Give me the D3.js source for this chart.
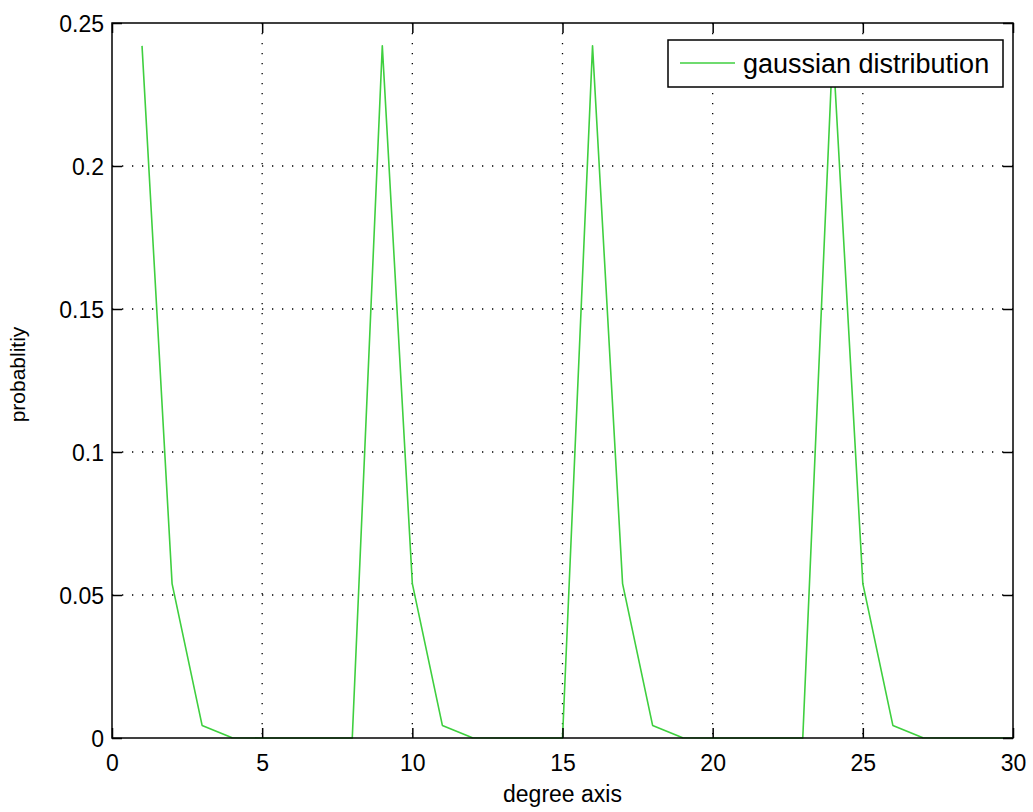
<!DOCTYPE html>
<html>
<head>
<meta charset="utf-8">
<script src="https://cdn.jsdelivr.net/npm/d3@7"></script>
<style>
  body { margin: 0; background: #fff; }
  svg { display: block; }
  text { font-family: 'Liberation Sans', Arial, sans-serif; fill: #000; }
</style>
</head>
<body>
<svg width="1033" height="812" viewBox="0 0 1033 812"></svg>
<script>
const degrees = d3.range(1, 31);
const probability = [
  0.242, 0.054, 0.0044, 0.0001, 0, 0, 0, 0,
  0.242, 0.054, 0.0044, 0.0001, 0, 0, 0,
  0.242, 0.054, 0.0044, 0.0001, 0, 0, 0, 0,
  0.242, 0.054, 0.0044, 0.0001, 0, 0, 0
];
const xTicks = [0, 5, 10, 15, 20, 25, 30];
const yTicks = [0, 0.05, 0.1, 0.15, 0.2, 0.25];
const yTickLabels = ['0', '0.05', '0.1', '0.15', '0.2', '0.25'];
const xLabel = 'degree axis';
const yLabel = 'probablitiy';
const seriesName = 'gaussian distribution';

const data = degrees.map((d, i) => ({ x: d, y: probability[i] }));

const margin = { left: 112, right: 20, top: 23, bottom: 74 };
const svg = d3.select('svg');
const width = +svg.attr('width');
const height = +svg.attr('height');
const innerWidth = width - margin.left - margin.right;
const innerHeight = height - margin.top - margin.bottom;

const g = svg.append('g')
    .attr('transform', `translate(${margin.left},${margin.top})`);

const xScale = d3.scaleLinear().domain([0, 30]).range([0, innerWidth]);
const yScale = d3.scaleLinear().domain([0, 0.25]).range([innerHeight, 0]);

// dotted grid
g.append('g').selectAll('line').data(xTicks.slice(1, -1))
  .enter().append('line')
    .attr('x1', d => xScale(d)).attr('x2', d => xScale(d))
    .attr('y1', 0).attr('y2', innerHeight)
    .attr('stroke', '#000').attr('stroke-width', 1.3)
    .attr('stroke-dasharray', '1.3,8.7');
g.append('g').selectAll('line').data(yTicks.slice(1, -1))
  .enter().append('line')
    .attr('y1', d => yScale(d)).attr('y2', d => yScale(d))
    .attr('x1', 0).attr('x2', innerWidth)
    .attr('stroke', '#000').attr('stroke-width', 1.3)
    .attr('stroke-dasharray', '1.3,8.7');

// series
const line = d3.line().x(d => xScale(d.x)).y(d => yScale(d.y));
g.append('path').datum(data)
    .attr('d', line)
    .attr('fill', 'none')
    .attr('stroke', '#3fcf3f')
    .attr('stroke-width', 1.6)
    .attr('stroke-linejoin', 'round');

// axes with inward ticks on all sides
const tickLen = 10;
const xAxisB = d3.axisBottom(xScale).tickValues(xTicks).tickSize(-tickLen).tickPadding(17).tickFormat(d3.format('d'));
const xAxisT = d3.axisTop(xScale).tickValues(xTicks).tickSize(-tickLen);
const yAxisL = d3.axisLeft(yScale).tickValues(yTicks).tickSize(-tickLen).tickPadding(8).tickFormat((d, i) => yTickLabels[i]);
const yAxisR = d3.axisRight(yScale).tickValues(yTicks).tickSize(-tickLen);

function styleAxis(sel) {
  sel.select('.domain').remove();
  sel.selectAll('.tick line').attr('stroke', '#000').attr('stroke-width', 1.5);
  sel.selectAll('.tick text').attr('font-size', 23).attr('font-family', "'Liberation Sans', Arial, sans-serif");
}

g.append('g').attr('transform', `translate(0,${innerHeight})`).call(xAxisB).call(styleAxis)
  .selectAll('.tick text').attr('dy', 16);
g.append('g').call(xAxisT).call(styleAxis).selectAll('.tick text').remove();
g.append('g').call(yAxisL).call(styleAxis)
  .selectAll('.tick text').attr('dy', 8);
g.append('g').attr('transform', `translate(${innerWidth},0)`).call(yAxisR).call(styleAxis).selectAll('.tick text').remove();
g.append('rect')
    .attr('width', innerWidth).attr('height', innerHeight)
    .attr('fill', 'none').attr('stroke', '#000').attr('stroke-width', 1.5);

// axis labels
g.append('text')
    .attr('x', innerWidth / 2)
    .attr('y', innerHeight + 64)
    .attr('text-anchor', 'middle')
    .attr('font-size', 23)
    .text(xLabel);
g.append('text')
    .attr('transform', `translate(-87,${innerHeight / 2 - 6}) rotate(-90)`)
    .attr('text-anchor', 'middle')
    .attr('font-size', 21)
    .text(yLabel);

// legend
const legend = g.append('g').attr('transform', `translate(${556},${17})`);
legend.append('rect')
    .attr('width', 335).attr('height', 47)
    .attr('fill', '#fff').attr('stroke', '#000').attr('stroke-width', 1.5);
legend.append('line')
    .attr('x1', 12).attr('x2', 67).attr('y1', 23).attr('y2', 23)
    .attr('stroke', '#3fcf3f').attr('stroke-width', 1.6);
legend.append('text')
    .attr('x', 75).attr('y', 33)
    .attr('font-size', 27)
    .text(seriesName);
</script>
</body>
</html>
